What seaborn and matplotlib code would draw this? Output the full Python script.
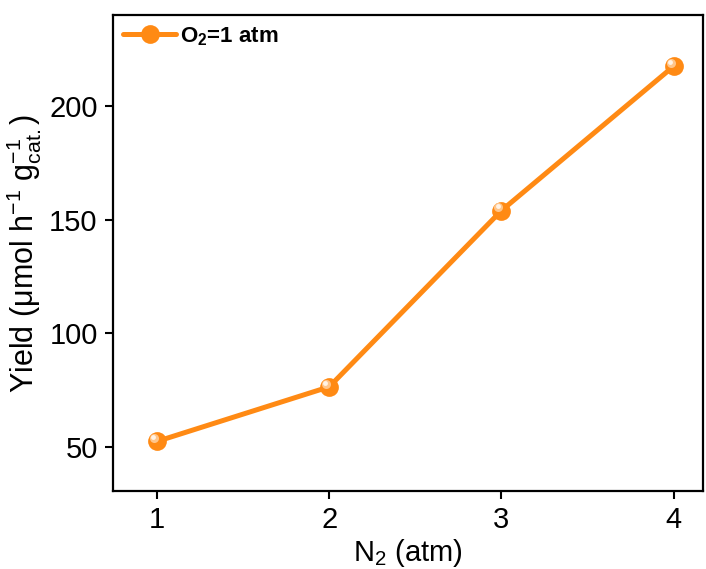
import matplotlib
matplotlib.use("Agg")
import matplotlib.pyplot as plt
import seaborn as sns
import pandas as pd

n2_atm = [1, 2, 3, 4]
yield_vals = [52.5, 76.5, 154, 217.5]
series_label = "O$_\\mathbf{2}$=1 atm"
x_ticks = [1, 2, 3, 4]
y_ticks = [50, 100, 150, 200]

sns.set_theme(style="ticks")
plt.rcParams['font.family'] = ['Liberation Sans', 'DejaVu Sans']
plt.rcParams['mathtext.fontset'] = 'custom'
plt.rcParams['mathtext.rm'] = 'Liberation Sans'
plt.rcParams['mathtext.it'] = 'Liberation Sans'
plt.rcParams['mathtext.bf'] = 'Liberation Sans:bold'
plt.rcParams['text.color'] = 'black'
plt.rcParams['axes.labelcolor'] = 'black'
plt.rcParams['xtick.color'] = 'black'
plt.rcParams['ytick.color'] = 'black'

df = pd.DataFrame({"N2": n2_atm, "Yield": yield_vals})
color = "#FF8A14"

fig = plt.figure(figsize=(7.06, 5.69), dpi=100)
ax = fig.add_axes([113/706, 1-491/569, (703-113)/706, (491-15)/569])

sns.lineplot(data=df, x="N2", y="Yield", ax=ax, color=color, lw=3.6,
             marker="o", markersize=13.5, markeredgewidth=0, markerfacecolor=color,
             label=series_label, zorder=3)
# highlight for sphere look
ax.plot(df["N2"] - 0.018, df["Yield"] + 1.4, linestyle="none", marker="o",
        markersize=6.5, color="#FFC58A", markeredgewidth=0, zorder=4)
ax.plot(df["N2"] - 0.022, df["Yield"] + 1.8, linestyle="none", marker="o",
        markersize=3.5, color="#FFF3E6", markeredgewidth=0, zorder=5)

ax.set_xlim(0.745, 4.17)
ax.set_ylim(30.7, 240)
ax.set_xticks(x_ticks)
ax.set_yticks(y_ticks)
ax.tick_params(axis="both", labelsize=21, width=1.5, length=6, direction="out",
               color="black", labelcolor="black", pad=5)
for s in ax.spines.values():
    s.set_linewidth(1.6)
    s.set_color("black")
ax.set_xlabel("N$_2$ (atm)", fontsize=21, labelpad=2)
ax.set_ylabel("Yield (μmol h$^{-1}$ g$^{-1}_{\\mathrm{cat.}}$)", fontsize=22, labelpad=4)

leg = ax.legend(loc="upper left", frameon=False,
                prop={"weight": "bold", "size": 16}, handlelength=2.4,
                borderaxespad=0.1, handletextpad=0.15, borderpad=0.35)

fig.savefig("out.png", dpi=100)
